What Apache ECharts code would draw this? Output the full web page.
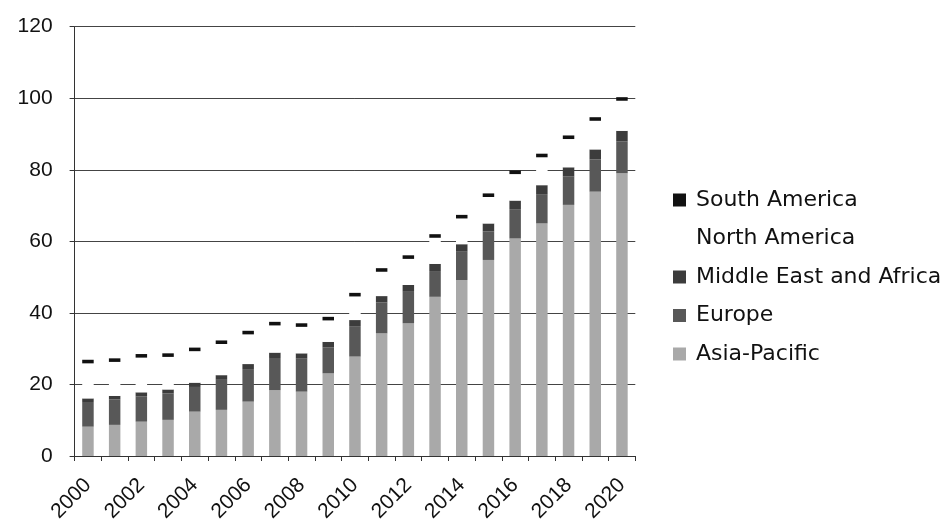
<!DOCTYPE html>
<html>
<head>
<meta charset="utf-8">
<script src="https://cdn.jsdelivr.net/npm/echarts@6/dist/echarts.min.js"></script>
<style>
  html, body { margin: 0; padding: 0; background: #fff; }
  #chart { width: 948px; height: 527px; }
</style>
</head>
<body>
<div id="chart"></div>
<script>
// Years on the category axis
var years = ['2000','2001','2002','2003','2004','2005','2006','2007','2008','2009','2010',
             '2011','2012','2013','2014','2015','2016','2017','2018','2019','2020'];

// Regional values, stacked bottom to top
var asiaPacific = [8.2, 8.7, 9.6, 10.1, 12.4, 12.9, 15.2, 18.4, 18.0, 23.1, 27.8,
                   34.3, 37.1, 44.5, 49.2, 54.8, 60.8, 65.0, 70.2, 73.9, 79.0];
var europe = [6.9, 7.1, 7.1, 7.4, 6.9, 8.4, 9.1, 9.0, 9.2, 7.2, 8.5,
              8.6, 8.8, 7.2, 7.9, 8.0, 8.2, 8.2, 7.9, 9.0, 8.9];
var middleEastAfrica = [1.0, 1.0, 1.1, 1.1, 1.2, 1.3, 1.4, 1.5, 1.5, 1.6, 1.7,
                        1.8, 1.9, 2.0, 2.1, 2.2, 2.4, 2.5, 2.6, 2.8, 3.0];
var northAmerica = [9.8, 9.5, 9.7, 9.1, 8.8, 8.7, 8.3, 7.6, 7.4, 6.0, 6.6,
                    6.8, 7.3, 7.3, 7.2, 7.4, 7.4, 7.8, 7.9, 8.0, 8.4];
var southAmerica = [1.0, 1.0, 1.0, 1.0, 1.0, 1.0, 1.0, 1.0, 1.0, 1.0, 1.0,
                    1.0, 1.0, 1.0, 1.0, 1.0, 1.0, 1.0, 1.0, 1.0, 1.0];

// Value-axis ticks
var yMin = 0, yMax = 120, yStep = 20;

var legendOrder = ['South America', 'North America', 'Middle East and Africa', 'Europe', 'Asia-Pacific'];

function stackedBar(name, data, color) {
  return {
    name: name,
    type: 'bar',
    stack: 'total',
    data: data,
    barWidth: '43%',
    itemStyle: { color: color },
    emphasis: { disabled: true }
  };
}

var chart = echarts.init(document.getElementById('chart'), null, { renderer: 'canvas' });
chart.setOption({
  animation: false,
  backgroundColor: '#ffffff',
  textStyle: { fontFamily: 'Liberation Sans, Arial, sans-serif' },
  grid: { left: 74.6, right: 312.7, top: 26.7, bottom: 71 },
  legend: {
    orient: 'vertical',
    left: 668,
    top: 184,
    data: legendOrder,
    icon: 'rect',
    itemWidth: 13,
    itemHeight: 13,
    itemGap: 16.5,
    selectedMode: false,
    textStyle: {
      fontFamily: 'DejaVu Sans, Verdana, sans-serif',
      fontSize: 22,
      lineHeight: 22,
      color: '#111',
      padding: [0, 0, 0, 5]
    }
  },
  xAxis: {
    type: 'category',
    data: years,
    boundaryGap: true,
    axisLine: { lineStyle: { color: '#333', width: 1 } },
    axisTick: { show: true, interval: 0, length: 5, lineStyle: { color: '#333' } },
    axisLabel: {
      interval: 1,
      rotate: 45,
      fontSize: 21,
      color: '#111',
      margin: 26
    }
  },
  yAxis: {
    type: 'value',
    min: yMin,
    max: yMax,
    interval: yStep,
    axisLine: { show: true, lineStyle: { color: '#333', width: 1 } },
    axisTick: { show: true, length: 5, lineStyle: { color: '#333' } },
    axisLabel: { fontSize: 21, color: '#111', margin: 22 },
    splitLine: { show: true, lineStyle: { color: '#444', width: 1 } }
  },
  series: [
    stackedBar('Asia-Pacific', asiaPacific, '#a9a9a9'),
    stackedBar('Europe', europe, '#585858'),
    stackedBar('Middle East and Africa', middleEastAfrica, '#3c3c3c'),
    stackedBar('North America', northAmerica, '#ffffff'),
    stackedBar('South America', southAmerica, '#111111')
  ]
});
</script>
</body>
</html>
